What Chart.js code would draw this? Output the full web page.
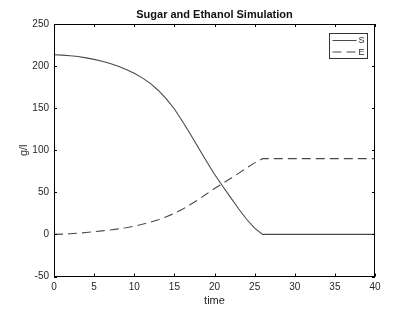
<!DOCTYPE html>
<html lang="en">
<head>
    <meta charset="UTF-8">
    <title>Sugar and Ethanol Simulation</title>
    <script src="https://cdn.jsdelivr.net/npm/chart.js@4"></script>
    <style>
        html, body {
            margin: 0;
            padding: 0;
            background: #ffffff;
        }
        .wrap {
            width: 415px;
            height: 312px;
        }
    </style>
</head>
<body>
    <div class="wrap"><canvas id="simChart" width="415" height="312"></canvas></div>

    <script>
        // simulation output
        const time = [0, 1, 2, 3, 4, 5, 6, 7, 8, 9, 10, 11, 12, 13, 14, 15, 16, 17, 18, 19, 20, 21, 22, 23, 24, 25, 26, 40];
        const sugar = [213.5, 213, 212.3, 211.3, 209.8, 208, 205.7, 203, 199.8, 196, 191.5, 186, 179.5, 171, 161, 149, 134.5, 119, 103, 87, 71.5, 57.5, 44, 30.5, 18, 7.5, 0, 0];
        const ethanol = [0, 0.3, 0.8, 1.5, 2.3, 3.2, 4.2, 5.3, 6.6, 8, 9.8, 12, 14.5, 17.5, 21, 25, 30, 35.5, 41.5, 48, 54.5, 60.5, 66.5, 72.5, 79, 85, 90, 90];
        const seriesNames = ['S', 'E'];
        const xTicks = [0, 5, 10, 15, 20, 25, 30, 35, 40];
        const yTicks = [-50, 0, 50, 100, 150, 200, 250];

        const lineColor = '#4a4a4a';
        const textColor = '#262626';
        const fontFamily = "'Liberation Sans', Arial, sans-serif";

        const toPoints = (ys) => time.map((t, i) => ({ x: t, y: ys[i] }));

        // matlab-ish box: frame, inward ticks, title and legend
        const matlabBox = {
            id: 'matlabBox',
            afterDraw(chart) {
                const { ctx, chartArea: a, scales } = chart;
                ctx.save();
                ctx.strokeStyle = '#000';
                ctx.lineWidth = 1;
                ctx.strokeRect(Math.round(a.left) + 0.5, Math.round(a.top) + 0.5,
                    Math.round(a.right - a.left) - 1, Math.round(a.bottom - a.top) - 1);

                const tl = 3;
                ctx.beginPath();
                xTicks.forEach(v => {
                    const px = Math.round(scales.x.getPixelForValue(v)) + 0.5;
                    ctx.moveTo(px, a.bottom); ctx.lineTo(px, a.bottom - tl);
                    ctx.moveTo(px, a.top); ctx.lineTo(px, a.top + tl);
                });
                yTicks.forEach(v => {
                    const py = Math.round(scales.y.getPixelForValue(v)) + 0.5;
                    ctx.moveTo(a.left, py); ctx.lineTo(a.left + tl, py);
                    ctx.moveTo(a.right, py); ctx.lineTo(a.right - tl, py);
                });
                ctx.stroke();

                // title
                ctx.fillStyle = '#111';
                ctx.font = 'bold 11px ' + fontFamily;
                ctx.textAlign = 'center';
                ctx.textBaseline = 'middle';
                ctx.fillText('Sugar and Ethanol Simulation', (a.left + a.right) / 2, 15);

                // legend
                const lx = 329.5, ly = 33.5, lw = 38, lh = 25;
                ctx.fillStyle = '#fff';
                ctx.fillRect(lx, ly, lw, lh);
                ctx.strokeStyle = '#333';
                ctx.strokeRect(lx, ly, lw, lh);
                chart.data.datasets.forEach((ds, i) => {
                    const yy = ly + 7 + i * 11.5;
                    ctx.strokeStyle = ds.borderColor;
                    ctx.lineWidth = 1;
                    ctx.setLineDash(ds.borderDash || []);
                    ctx.beginPath();
                    ctx.moveTo(lx + 3, yy);
                    ctx.lineTo(lx + 27, yy);
                    ctx.stroke();
                    ctx.setLineDash([]);
                    ctx.fillStyle = textColor;
                    ctx.font = '9px ' + fontFamily;
                    ctx.textAlign = 'left';
                    ctx.fillText(ds.label, lx + 29, yy + 0.5);
                });
                ctx.restore();
            }
        };

        new Chart(document.getElementById('simChart'), {
            type: 'line',
            data: {
                datasets: [
                    {
                        label: seriesNames[0],
                        data: toPoints(sugar),
                        borderColor: lineColor,
                        borderWidth: 1.1,
                        pointRadius: 0,
                        tension: 0,
                        fill: false
                    },
                    {
                        label: seriesNames[1],
                        data: toPoints(ethanol),
                        borderColor: lineColor,
                        borderWidth: 1.1,
                        borderDash: [9, 5],
                        pointRadius: 0,
                        tension: 0,
                        fill: false
                    }
                ]
            },
            options: {
                responsive: false,
                animation: false,
                layout: {
                    padding: { top: 24, right: 40, bottom: 4, left: 17 }
                },
                plugins: {
                    legend: { display: false },
                    title: { display: false },
                    tooltip: { enabled: false }
                },
                scales: {
                    x: {
                        type: 'linear',
                        min: 0,
                        max: 40,
                        afterFit: (s) => { s.height = 31.5; },
                        afterBuildTicks: (s) => { s.ticks = xTicks.map(v => ({ value: v })); },
                        grid: { display: false, drawTicks: false },
                        border: { display: false },
                        ticks: {
                            color: textColor,
                            padding: 5,
                            maxRotation: 0,
                            font: { size: 10, family: fontFamily }
                        },
                        title: {
                            display: true,
                            text: 'time',
                            color: textColor,
                            padding: { top: 0, bottom: 0 },
                            font: { size: 11, family: fontFamily }
                        }
                    },
                    y: {
                        type: 'linear',
                        min: -50,
                        max: 250,
                        afterFit: (s) => { s.width = 37; },
                        afterBuildTicks: (s) => { s.ticks = yTicks.map(v => ({ value: v })); },
                        grid: { display: false, drawTicks: false },
                        border: { display: false },
                        ticks: {
                            color: textColor,
                            padding: 5,
                            font: { size: 10, family: fontFamily }
                        },
                        title: {
                            display: true,
                            text: 'g/l',
                            color: textColor,
                            padding: { top: 0, bottom: 0 },
                            font: { size: 11, family: fontFamily }
                        }
                    }
                }
            },
            plugins: [matlabBox]
        });
    </script>
</body>
</html>
